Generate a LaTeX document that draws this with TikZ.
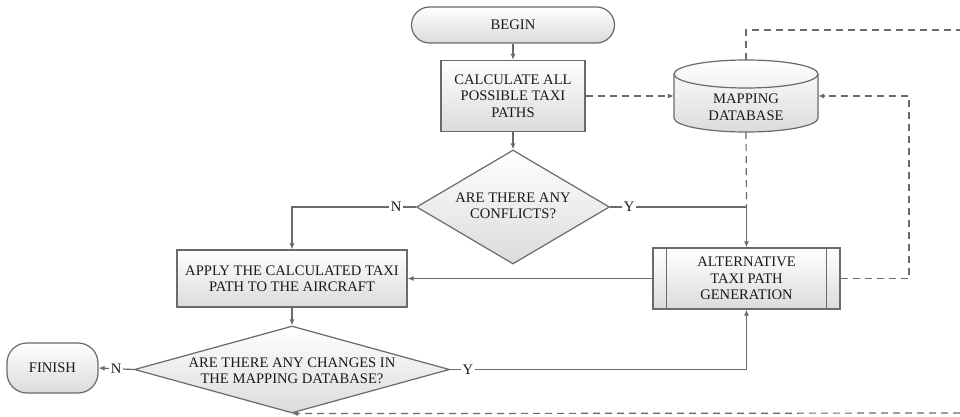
\documentclass[tikz,border=0pt]{standalone}
\usepackage{fontspec}
\setmainfont{Liberation Serif}
\usetikzlibrary{shapes.geometric,arrows.meta}
\definecolor{edge}{HTML}{6A6A6A}
\definecolor{ink}{HTML}{1A1A1A}
\tikzset{
  txt/.style={text=ink, font=\fontsize{14.6}{16.5}\selectfont, align=center, inner sep=0pt},
  base/.style={txt, draw=edge, line width=1.2pt, top color=white, bottom color=gray!28},
  procbox/.style={base, rectangle},
  term/.style={base, rectangle, rounded corners=18pt},
  dec/.style={base, diamond, inner sep=0pt},
  conn/.style={draw=edge, line width=1.2pt},
  arr/.style={conn, -{Latex[length=6pt,width=5pt]}},
  dline/.style={conn, dash pattern=on 7pt off 5pt},
  darr/.style={arr, dash pattern=on 7pt off 5pt},
  yn/.style={txt, fill=white, inner sep=1.5pt},
}
\begin{document}
\begin{tikzpicture}[x=1pt,y=1pt]
\useasboundingbox[fill=white] (0,0) rectangle (960,416);

% nodes
\node[term, minimum width=203pt, minimum height=36pt] (begin) at (513,391) {BEGIN};
\node[procbox, minimum width=144pt, minimum height=71pt] (calc) at (513,320) {CALCULATE ALL\\POSSIBLE TAXI\\PATHS};
\node[dec, minimum width=193pt, minimum height=114pt] (d1) at (513,209) {};
\node[txt] (d1t) at (513,210) {ARE THERE ANY\\CONFLICTS?};
\node[procbox, minimum width=230pt, minimum height=57pt] (apply) at (292,137.5) {APPLY THE CALCULATED TAXI\\PATH TO THE AIRCRAFT};
\node[dec, minimum width=315pt, minimum height=87pt] (d2) at (292,46.5) {};
\node[txt] (d2t) at (292,45) {ARE THERE ANY CHANGES IN\\THE MAPPING DATABASE?};
\node[term, rounded corners=20pt, minimum width=91pt, minimum height=50pt] (finish) at (52.5,48) {FINISH};
\node[procbox, minimum width=187pt, minimum height=61pt] (alt) at (746.5,137.5) {ALTERNATIVE\\TAXI PATH\\GENERATION};
\draw[conn] ([xshift=14pt]alt.north west) -- ([xshift=14pt]alt.south west);
\draw[conn] ([xshift=-14pt]alt.north east) -- ([xshift=-14pt]alt.south east);

% database cylinder
\node[minimum width=144pt, minimum height=72pt, inner sep=0pt] (db) at (746,320) {};
\draw[conn, top color=white, bottom color=gray!28]
  (674,342) -- (674,298) arc[start angle=180, end angle=360, x radius=72pt, y radius=14pt]
  -- (818,342) arc[start angle=0, end angle=180, x radius=72pt, y radius=14pt] -- cycle;
\draw[conn] (674,342) arc[start angle=180, end angle=360, x radius=72pt, y radius=14pt];
\node[txt] (dbt) at (746,309) {MAPPING\\DATABASE};

% helper coordinates
\coordinate (j1) at (alt.north |- d1.east);
\coordinate (r1) at (909,320);
\coordinate (tr) at (960,386);
\coordinate (br) at (960,3);

% solid connectors
\draw[arr] (begin) -- (calc);
\draw[arr] (calc) -- (d1);
\draw[arr] (d1.west) -| node[yn, pos=0.08] {N} (apply.north);
\draw[arr] (d1.east) -| node[yn, pos=0.07] {Y} (alt.north);
\draw[arr] (alt.west) -- (apply.east);
\draw[arr] (apply) -- (d2);
\draw[arr] (d2.west) -- node[yn] {N} (finish.east);
\draw[arr] (d2.east) -| node[yn, pos=0.03] {Y} (alt.south);

% dashed connectors
\draw[darr] (calc.east) -- (db.west);
\draw[dline] (db.south) -- (j1);
\draw[darr] (alt.east) -- (alt.east -| r1) |- (db.east);
\draw[dline] (db.north) |- (tr);
\draw[darr] (br) -- (d2.south);
\end{tikzpicture}
\end{document}
